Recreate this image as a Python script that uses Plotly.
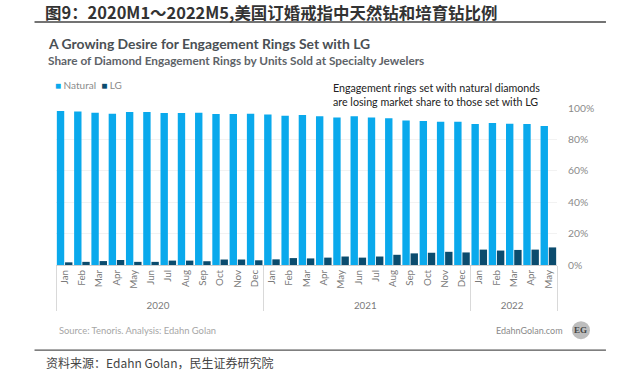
import plotly.graph_objects as go

W, H = 620, 378
L, R, T, B = 55.5, 557, 107.5, 264.7
months = ["Jan","Feb","Mar","Apr","May","Jun","Jul","Aug","Sep","Oct","Nov","Dec",
          "Jan","Feb","Mar","Apr","May","Jun","Jul","Aug","Sep","Oct","Nov","Dec",
          "Jan","Feb","Mar","Apr","May"]
years = ["2020"]*12 + ["2021"]*12 + ["2022"]*5
natural = [98.1,97.7,97.0,96.4,97.5,97.5,96.8,96.8,97.0,96.2,96.2,96.4,
           95.8,95.1,95.5,94.7,94.0,94.7,94.0,93.4,92.0,91.7,91.3,91.3,
           89.8,90.5,90.0,89.8,88.5]
lg = [1.7,2.0,2.5,3.2,2.0,2.0,2.8,2.8,2.4,3.5,3.5,3.0,
      3.6,4.4,4.2,4.7,5.4,4.7,5.4,6.5,7.4,7.8,8.4,8.0,
      9.8,9.2,9.6,9.8,11.2]
y_ticks = [0,20,40,60,80,100]

LAT = "Lato"
CJK = "Noto Sans CJK SC"
NAT_COLOR, LG_COLOR = "#0AA9EC", "#0B4C6E"
fig = go.Figure()
fig.add_bar(name="Natural", x=[years, months], y=natural, marker_color=NAT_COLOR, marker_line_width=0)
fig.add_bar(name="LG", x=[years, months], y=lg, marker_color=LG_COLOR, marker_line_width=0)

def px(x): return (x - L) / (R - L)
def py(y): return (B - y) / (B - T)
def text(x, y, s, size, color, font=LAT, anchor="left", bold=False):
    fig.add_annotation(xref="paper", yref="paper", x=px(x), y=py(y), text=f"<b>{s}</b>" if bold else s,
                       showarrow=False, xanchor=anchor, yanchor="middle",
                       font=dict(size=size, color=color, family=font), align="left", borderpad=0)

text(43, 11, "图9：2020M1～2022M5,美国订婚戒指中天然钻和培育钻比例", 16.45, "#333333", CJK, bold=True)
text(46, 43, "A Growing Desire for Engagement Rings Set with LG", 13.9, "#4A4F54", LAT, bold=True)
text(46, 60, "Share of Diamond Engagement Rings by Units Sold at Specialty Jewelers", 11.8, "#5E6368", LAT, bold=True)
text(332, 87, "Engagement rings set with natural diamonds", 10.7, "#222222", LAT)
text(332, 101, "are losing market share to those set with LG", 10.7, "#222222", LAT)
text(58, 330, "Source: Tenoris. Analysis: Edahn Golan", 9.4, "#A6A6A6", LAT)
text(495, 330, "EdahnGolan.com", 9, "#8A8A8A", LAT)
text(44, 362, "资料来源：Edahn Golan，民生证券研究院", 12, "#444444", CJK)
text(581, 330, "<b>EG</b>", 9, "#444444", "Liberation Serif", anchor="center")
text(53, 84, f"<span style='color:{NAT_COLOR}'>■</span> Natural  <span style='color:{LG_COLOR}'>■</span> LG",
     10, "#8A8A8A", LAT)

shapes = [
    dict(type="line", xref="paper", yref="paper", x0=px(34), x1=px(606), y0=py(21.5), y1=py(21.5),
         line=dict(color="#444444", width=1.5)),
    dict(type="line", xref="paper", yref="paper", x0=px(34), x1=px(606), y0=py(350), y1=py(350),
         line=dict(color="#555555", width=1.2)),
    dict(type="circle", xref="paper", yref="paper", x0=px(572), x1=px(590), y0=py(339), y1=py(321),
         fillcolor="#BDBDBD", line_width=0, layer="below"),
]

fig.update_layout(
    width=W, height=H, autosize=False,
    paper_bgcolor="white", plot_bgcolor="white",
    margin=dict(l=L, r=W-R, t=T, b=H-B, pad=0, autoexpand=False),
    barmode="group", bargap=0.05, bargroupgap=0.1,
    shapes=shapes,
    showlegend=False,
    font=dict(family=LAT),
)
fig.update_xaxes(type="multicategory", tickangle=-90, tickfont=dict(size=9.8, color="#7A7A7A", family=LAT),
                 showdividers=True, dividercolor="#D9D9D9", dividerwidth=1,
                 showline=True, linecolor="#D0D0D0", ticks="", showgrid=False, automargin=False)
fig.update_yaxes(side="right", range=[0,100], tickvals=y_ticks, ticktext=[f"{v}%" for v in y_ticks],
                 tickfont=dict(size=10.3, color="#8A8A8A", family=LAT), gridcolor="#F2F2F2", gridwidth=1,
                 zeroline=False, showline=False, ticks="", ticklen=0, ticklabelstandoff=10, automargin=False)
fig.write_html("out.html", config={"displayModeBar": False},
               post_script="document.body.style.margin='0';")
